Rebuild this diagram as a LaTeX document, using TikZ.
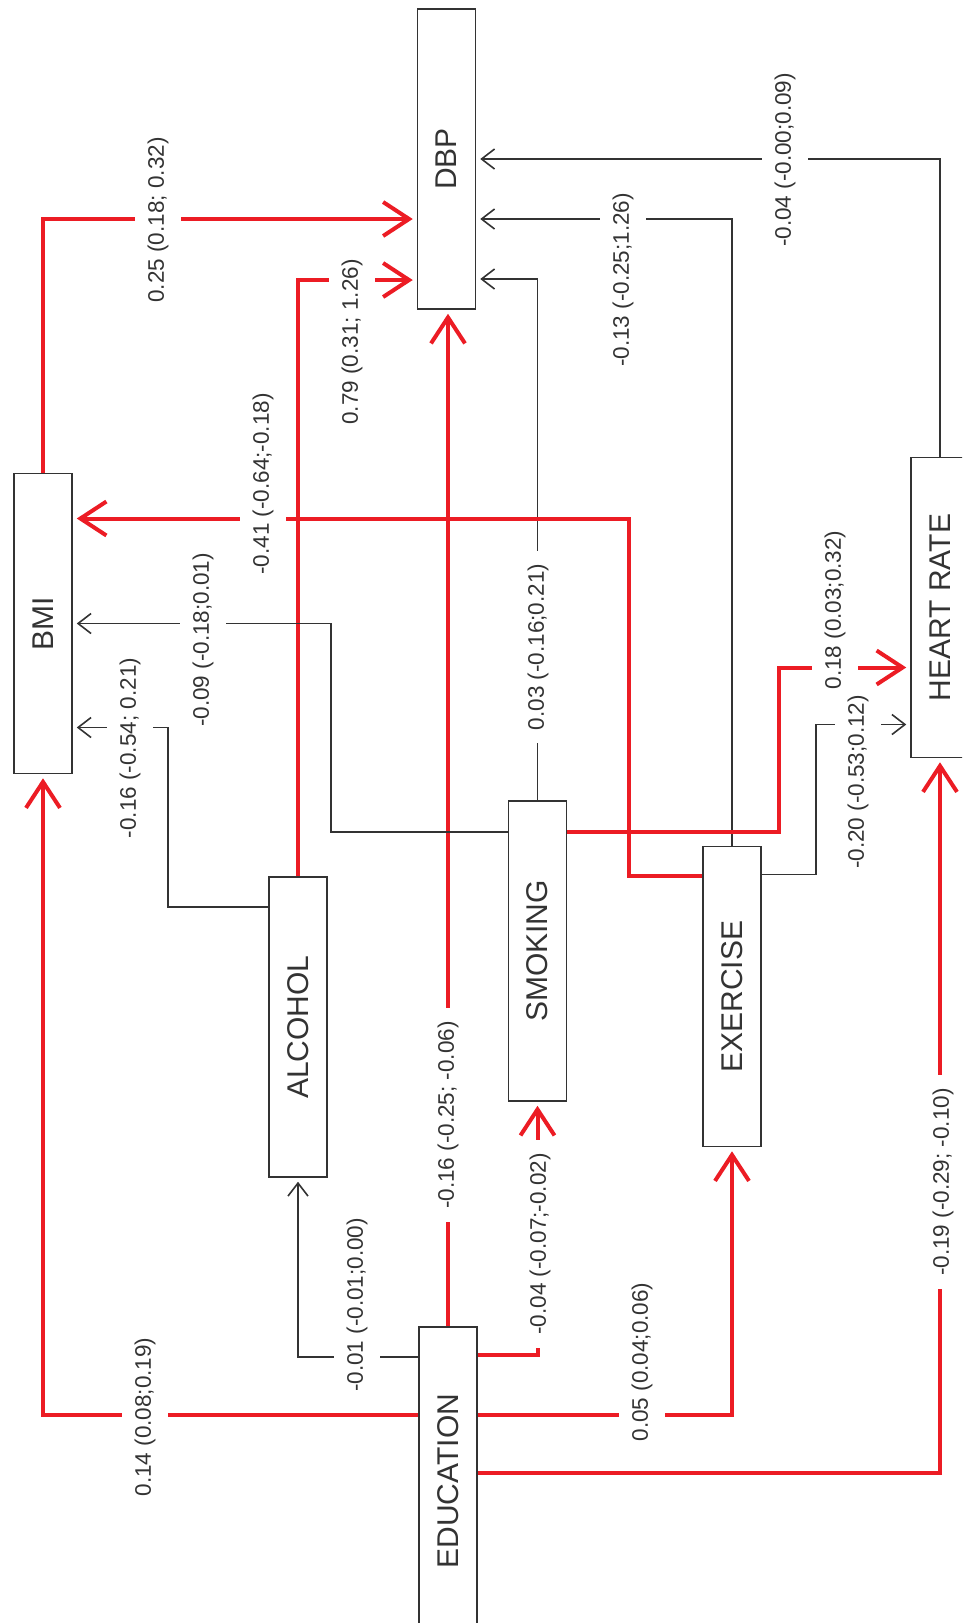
\documentclass[tikz,border=0pt]{standalone}
\usepackage{fontspec}
\setmainfont{Liberation Sans}
\usepackage{graphicx}
\usepackage{xcolor}
\definecolor{pathred}{HTML}{EC1C24}
\definecolor{pathgray}{HTML}{333333}
\usepackage{tikz}
\usetikzlibrary{arrows.meta}

\tikzset{
  varbox/.style={draw=pathgray, line width=1.5pt, minimum width=58pt, minimum height=300pt,
    inner sep=0pt, text=pathgray, font=\fontsize{30}{36}\selectfont},
  coef/.style={fill=white, rotate=90, inner xsep=3pt, inner ysep=13pt,
    text=pathgray, font=\fontsize{22.5}{27}\selectfont},
  coefv/.style={coef, inner xsep=13pt},
  sigpath/.style={draw=pathred, line width=4pt, -{Straight Barb[length=26pt,width=34pt]}, shorten >=4pt},
  nspath/.style={draw=pathgray, line width=1.6pt, -{Straight Barb[length=13pt,width=20pt]}, shorten >=4pt},
}

\begin{document}
\begin{tikzpicture}[x=1pt, y=-1pt]
  \useasboundingbox (0,0) rectangle (962,1623);
  \clip (0,0) rectangle (962,1623);

  % variables
  \foreach \name/\x/\y/\txt in {
    dbp/446.5/159/{DBP},
    bmi/43/623.5/{BMI},
    hr/940/607.5/{HEART RATE},
    alc/298/1027/{ALCOHOL},
    smk/537.5/951/{SMOKING},
    exe/732/996.5/{EXERCISE},
    edu/448/1477/{EDUCATION}
  }{
    \node[varbox] (\name) at (\x,\y) {\rotatebox{90}{\txt}};
  }

  % paths into DBP
  \draw[sigpath] (bmi.north) |- ([yshift=-60pt]dbp.west);
  \draw[sigpath] (alc.north) |- ([yshift=-121pt]dbp.west);
  \draw[sigpath] (edu.north) -- (edu.north |- dbp.south);
  \draw[nspath] (smk.north) |- ([yshift=-120pt]dbp.east);
  \draw[nspath] (exe.north) |- ([yshift=-60pt]dbp.east);
  \draw[nspath] (hr.north) |- (dbp.east);

  % paths into BMI
  \draw[sigpath] ([yshift=121pt]exe.west) -- ++(-73,0) |- ([yshift=105pt]bmi.east);
  \draw[nspath] ([yshift=119pt]smk.west) -- ++(-177,0) |- (bmi.east);
  \draw[nspath] ([yshift=120pt]alc.west) -- ++(-100,0) |- ([yshift=-104pt]bmi.east);
  \draw[sigpath] ([yshift=62pt]edu.west) -| (bmi.south);

  % paths out of education
  \draw[nspath] ([yshift=120pt]edu.west) -| (alc.south);
  \draw[sigpath] ([yshift=122pt]edu.east) -| (smk.south);
  \draw[sigpath] ([yshift=62pt]edu.east) -| (exe.south);
  \draw[sigpath] ([yshift=4pt]edu.east) -| (hr.south);

  % paths into heart rate
  \draw[sigpath] ([yshift=119pt]smk.east) -- ++(212,0) |- ([yshift=-60pt]hr.west);
  \draw[nspath] ([yshift=122pt]exe.east) -- ++(54,0) |- ([yshift=-117pt]hr.west);

  % coefficients beside horizontal runs
  \foreach \x/\y/\txt [count=\i] in {
    158/220/{0.25 (0.18; 0.32)},
    352/342/{0.79 (0.31; 1.26)},
    263/484/{-0.41 (-0.64;-0.18)},
    203/640/{-0.09 (-0.18;0.01)},
    130/748/{-0.16 (-0.54; 0.21)},
    623/280/{-0.13 (-0.25;1.26)},
    785/160/{-0.04 (-0.00;0.09)},
    835/610/{0.18 (0.03;0.32)},
    858/782/{-0.20 (-0.53;0.12)},
    357/1305/{-0.01 (-0.01;0.00)},
    145/1417/{0.14 (0.08;0.19)},
    642/1362/{0.05 (0.04;0.06)}
  }{
    \node[coef] (coefh\i) at (\x,\y) {\txt};
  }

  % coefficients on vertical runs
  \foreach \x/\y/\txt [count=\i] in {
    538/647/{0.03 (-0.16;0.21)},
    448/1115/{-0.16 (-0.25; -0.06)},
    540/1244/{-0.04 (-0.07;-0.02)},
    943/1182/{-0.19 (-0.29; -0.10)}
  }{
    \node[coefv] (coefv\i) at (\x,\y) {\txt};
  }
\end{tikzpicture}
\end{document}
